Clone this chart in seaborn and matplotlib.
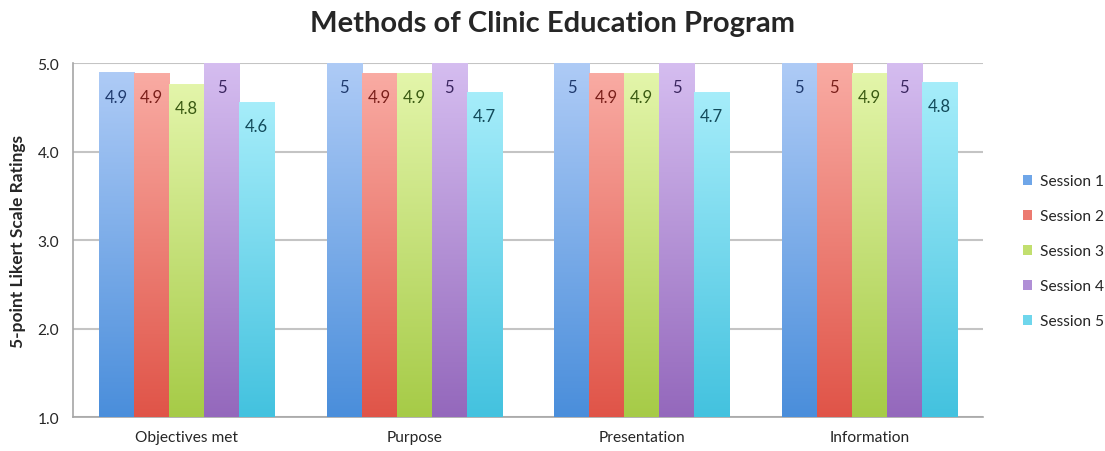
import numpy as np
import pandas as pd
import matplotlib
matplotlib.use('Agg')
import matplotlib.pyplot as plt
import matplotlib.colors as mcolors
from matplotlib.patches import Patch
from matplotlib.ticker import FixedLocator, FormatStrFormatter
import seaborn as sns

# Datos
categories = ['Objectives met', 'Purpose', 'Presentation', 'Information']
sessions = ['Session 1', 'Session 2', 'Session 3', 'Session 4', 'Session 5']
session_1 = [4.89, 5.0, 5.0, 5.0]
session_2 = [4.88, 4.88, 4.88, 5.0]
session_3 = [4.76, 4.88, 4.88, 4.88]
session_4 = [5.0, 5.0, 5.0, 5.0]
session_5 = [4.56, 4.67, 4.67, 4.78]
y_ticks = [1.0, 2.0, 3.0, 4.0, 5.0]

# Colores (arriba claro, abajo oscuro) y color de etiqueta
top_colors = ['#aecbf6', '#f9aba3', '#e3f5aa', '#d5bdf0', '#a6edfa']
bottom_colors = ['#4a8edb', '#e05448', '#a6cb47', '#9468bc', '#43c2df']
mid_colors = ['#6fa6e8', '#ec7a70', '#c2df6f', '#b08fd6', '#6fd6ec']
label_colors = ['#1f3a6e', '#7a1f1a', '#3a5a12', '#3b2660', '#124a5a']

values = [session_1, session_2, session_3, session_4, session_5]
df = pd.DataFrame({
    'Category': categories * len(sessions),
    'Session': [s for s in sessions for _ in categories],
    'Rating': [v for serie in values for v in serie],
})

sns.set_style('white')
plt.rcParams['font.family'] = ['Lato', 'DejaVu Sans']

fig, ax = plt.subplots(figsize=(11.05, 4.52), dpi=100)
fig.subplots_adjust(left=0.066, right=0.8896, top=0.858, bottom=0.075)

sns.barplot(data=df, x='Category', y='Rating', hue='Session', order=categories,
            hue_order=sessions, palette=mid_colors, width=0.77, ax=ax,
            legend=False, errorbar=None, zorder=3)

ax.set_xlim(-0.5, 3.5)
ax.set_ylim(1.0, 5.0)

# Degradado en cada barra
for i, container in enumerate(ax.containers):
    cmap = mcolors.LinearSegmentedColormap.from_list(
        f's{i}', [bottom_colors[i], top_colors[i]])
    grad = np.linspace(1, 0, 256).reshape(-1, 1)
    for patch, val in zip(container.patches, values[i]):
        x0 = patch.get_x()
        w = patch.get_width()
        top = patch.get_height()
        ax.imshow(grad, cmap=cmap, vmin=0, vmax=1, aspect='auto',
                  extent=[x0, x0 + w, 1.0, top], origin='upper', zorder=3)
        patch.set_alpha(0)
        lab = f'{round(val, 1):g}'
        ax.annotate(lab, (x0 + w / 2, min(top, 5.0)), xytext=(0, -17),
                    textcoords='offset points', ha='center', va='center',
                    fontsize=12, color=label_colors[i], zorder=5)

ax.set_xlim(-0.5, 3.5)
ax.set_ylim(1.0, 5.0)

# Ejes y rejilla
ax.yaxis.set_major_locator(FixedLocator(y_ticks))
ax.yaxis.set_major_formatter(FormatStrFormatter('%.1f'))
ax.grid(axis='y', color='#c4c4c4', linewidth=1.5, zorder=0)
ax.set_axisbelow(True)
for side in ['top', 'right']:
    ax.spines[side].set_visible(False)
for side in ['left', 'bottom']:
    ax.spines[side].set_color('#a6a6a6')
    ax.spines[side].set_linewidth(1.2)
ax.tick_params(axis='y', length=4, color='#a6a6a6', labelsize=11.2, pad=6)
ax.tick_params(axis='x', which='major', length=0, labelsize=11.2, pad=9)
ax.xaxis.set_minor_locator(FixedLocator([-0.5, 0.5, 1.5, 2.5, 3.5]))
ax.tick_params(axis='x', which='minor', length=4, color='#a6a6a6', width=1.2)

ax.set_xlabel('')
ax.set_ylabel('5-point Likert Scale Ratings', fontsize=12.5, fontweight='bold', labelpad=8)

fig.suptitle('Methods of Clinic Education Program', fontsize=21, fontweight='bold', y=0.975)

handles = [Patch(facecolor=c, edgecolor='none') for c in mid_colors]
fig.legend(handles, sessions, loc='center left', bbox_to_anchor=(0.913, 0.442),
           frameon=False, fontsize=11.2, handlelength=0.6, handleheight=0.6,
           handletextpad=0.5, labelspacing=1.35)

plt.savefig('out.png', dpi=100)
